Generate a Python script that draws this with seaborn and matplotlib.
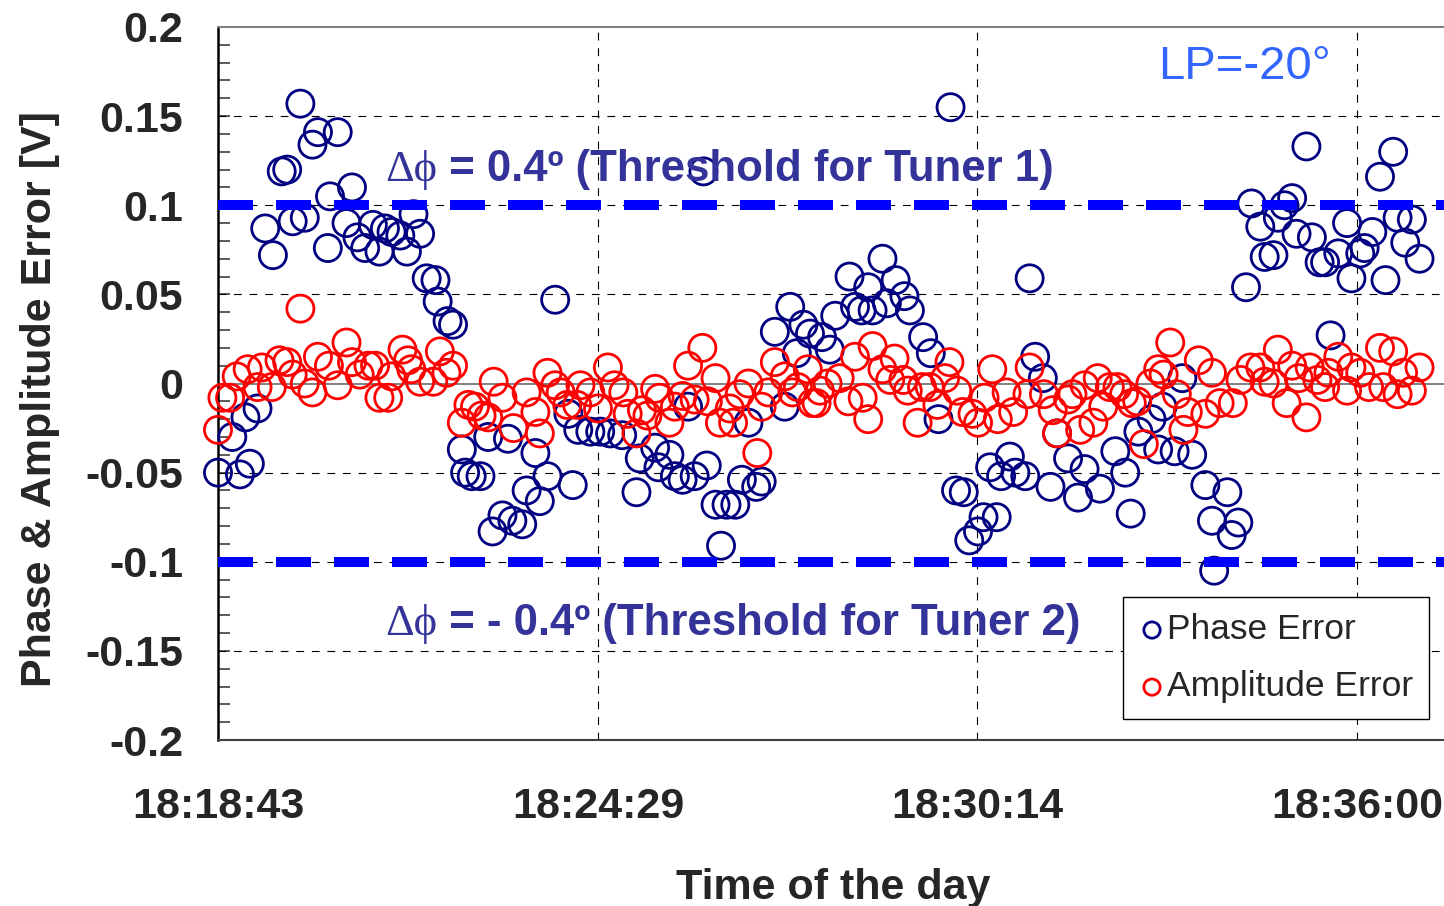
import matplotlib
matplotlib.use("Agg")
import matplotlib.pyplot as plt
from matplotlib.ticker import MultipleLocator, FixedLocator
import pandas as pd
import seaborn as sns

# Elapsed seconds after 18:18:43 and measured errors [V]
phase_t = [0, 13, 20, 25, 29, 36, 43, 50, 58, 63,
           68, 75, 79, 86, 91, 100, 102, 109, 117, 122,
           127, 134, 141, 147, 152, 158, 166, 172, 178, 184,
           190, 198, 200, 209, 214, 222, 225, 231, 239, 246,
           250, 259, 264, 268, 277, 281, 289, 293, 300, 307,
           319, 323, 328, 339, 348, 357, 368, 381, 384, 398,
           401, 411, 416, 423, 428, 434, 442, 445, 453, 458,
           463, 471, 477, 483, 490, 495, 507, 516, 521, 527,
           533, 539, 550, 557, 562, 575, 580, 586, 592, 596,
           605, 609, 617, 625, 630, 642, 649, 656, 667, 672,
           679, 684, 692, 697, 703, 709, 713, 721, 726, 735,
           739, 744, 751, 758, 764, 774, 783, 789, 803, 817,
           826, 831, 838, 850, 856, 860, 871, 878, 887, 899,
           905, 907, 919, 923, 929, 936, 941, 949, 953, 961,
           965, 971, 978, 982, 991, 996, 1003, 1008, 1013, 1020,
           1028, 1032, 1040, 1044, 1051, 1058, 1063, 1070, 1074, 1081,
           1087, 1094]
phase_v = [-0.050, -0.030, -0.051, -0.019, -0.045, -0.014, 0.087, 0.072, 0.119, 0.120,
           0.091, 0.157, 0.093, 0.134, 0.141, 0.076, 0.105, 0.141, 0.090, 0.110,
           0.082, 0.076, 0.089, 0.074, 0.087, 0.085, 0.083, 0.074, 0.095, 0.084,
           0.059, 0.058, 0.046, 0.035, 0.033, -0.037, -0.050, -0.052, -0.052, -0.030,
           -0.083, -0.074, -0.031, -0.077, -0.079, -0.060, -0.039, -0.066, -0.052, 0.047,
           -0.017, -0.057, -0.026, -0.027, -0.027, -0.028, -0.029, -0.061, -0.042, -0.036,
           -0.047, -0.040, -0.052, -0.054, -0.013, -0.052, 0.119, -0.046, -0.068, -0.091,
           -0.068, -0.068, -0.054, -0.022, -0.058, -0.055, 0.029, -0.013, 0.043, 0.017,
           0.033, 0.028, 0.026, 0.019, 0.038, 0.060, 0.043, 0.041, 0.054, 0.041,
           0.070, 0.045, 0.058, 0.049, 0.041, 0.026, 0.017, -0.020, 0.155, -0.060,
           -0.061, -0.088, -0.083, -0.075, -0.047, -0.075, -0.052, -0.041, -0.050, -0.052,
           0.059, 0.015, 0.003, -0.058, -0.028, -0.042, -0.064, -0.048, -0.059, -0.038,
           -0.050, -0.073, -0.027, -0.020, -0.037, -0.013, -0.038, 0.003, -0.040, -0.057,
           -0.077, -0.105, -0.061, -0.085, -0.078, 0.054, 0.101, 0.088, 0.071, 0.072,
           0.093, 0.100, 0.104, 0.084, 0.133, 0.082, 0.068, 0.068, 0.027, 0.073,
           0.090, 0.059, 0.073, 0.076, 0.085, 0.116, 0.058, 0.130, 0.093, 0.079,
           0.092, 0.070]

amp_t = [0, 4, 11, 17, 27, 36, 40, 49, 56, 63,
         68, 75, 79, 86, 91, 101, 109, 117, 122, 129,
         137, 143, 147, 155, 158, 168, 173, 176, 184, 196,
         202, 208, 214, 222, 228, 234, 240, 246, 251, 259,
         269, 281, 289, 293, 300, 307, 312, 318, 327, 330,
         339, 346, 355, 361, 369, 373, 381, 386, 391, 398,
         402, 411, 416, 423, 428, 434, 441, 446, 453, 457,
         466, 469, 475, 483, 491, 495, 501, 507, 516, 523,
         528, 537, 541, 545, 548, 555, 566, 574, 580, 587,
         592, 596, 605, 612, 616, 624, 628, 637, 641, 648,
         655, 662, 666, 673, 678, 687, 692, 698, 705, 710,
         718, 724, 737, 739, 752, 760, 764, 774, 778, 785,
         789, 797, 801, 806, 812, 819, 825, 832, 837, 843,
         849, 856, 861, 867, 873, 879, 883, 893, 899, 905,
         912, 924, 931, 940, 949, 953, 961, 965, 973, 978,
         984, 991, 994, 1001, 1008, 1011, 1020, 1028, 1032, 1040,
         1048, 1058, 1061, 1070, 1074, 1079, 1087, 1094]
amp_v = [-0.026, -0.008, -0.008, 0.004, 0.008, -0.002, 0.009, -0.002, 0.013, 0.012,
         0.005, 0.042, 0.000, -0.005, 0.015, 0.010, -0.001, 0.023, 0.012, 0.005,
         0.010, 0.010, -0.008, -0.008, 0.004, 0.019, 0.013, 0.008, 0.001, 0.001,
         0.018, 0.006, 0.010, -0.022, -0.012, -0.013, -0.018, -0.019, 0.001, -0.008,
         -0.025, -0.005, -0.016, -0.028, 0.006, -0.001, -0.005, -0.012, -0.012, -0.001,
         -0.005, -0.014, 0.009, -0.001, -0.005, -0.017, -0.028, -0.015, -0.018, -0.003,
         -0.008, -0.022, -0.013, -0.007, 0.010, -0.009, 0.020, -0.010, 0.003, -0.022,
         -0.014, -0.022, -0.006, 0.000, -0.039, -0.013, -0.005, 0.012, 0.004, -0.005,
         -0.002, 0.008, -0.011, -0.011, -0.004, 0.000, 0.003, -0.010, 0.015, -0.008,
         -0.020, 0.021, 0.008, 0.002, 0.014, 0.002, -0.004, -0.022, -0.002, -0.002,
         -0.012, 0.003, 0.012, -0.004, -0.016, -0.017, -0.022, -0.008, 0.008, -0.020,
         -0.005, -0.016, -0.006, 0.009, -0.006, -0.015, -0.028, -0.009, -0.006, -0.026,
         -0.001, -0.022, 0.003, -0.013, -0.002, -0.002, -0.006, -0.011, -0.010, -0.034,
         0.000, 0.008, 0.005, 0.023, -0.006, -0.026, -0.016, 0.013, -0.017, 0.006,
         -0.011, -0.011, 0.002, 0.009, 0.009, 0.001, 0.000, 0.019, -0.011, 0.010,
         0.003, -0.019, 0.009, 0.002, -0.002, 0.006, 0.015, -0.004, 0.009, 0.006,
         -0.002, 0.020, -0.002, 0.018, -0.006, 0.006, -0.004, 0.009]

start_time = "18:18:43"
time_ticks = ["18:18:43", "18:24:29", "18:30:14", "18:36:00"]
y_ticks = [0.2, 0.15, 0.1, 0.05, 0.0, -0.05, -0.1, -0.15, -0.2]
y_tick_labels = ["0.2", "0.15", "0.1", "0.05", "0", "-0.05", "-0.1", "-0.15", "-0.2"]
thresholds = [0.1, -0.1]
threshold_labels = [" = 0.4\u00ba (Threshold for Tuner 1)",
                    " = - 0.4\u00ba (Threshold for Tuner 2)"]


def to_seconds(stamp):
    h, m, s = (int(p) for p in stamp.split(":"))
    return h * 3600 + m * 60 + s


t0 = to_seconds(start_time)
tick_pos = [to_seconds(s) - t0 for s in time_ticks]

sns.set_theme(style="white")
plt.rcParams["font.family"] = ["Liberation Sans", "DejaVu Sans"]

NAVY = "#000080"
RED = "#FF0000"
LINE_BLUE = "#0000FF"
TEXT_BLUE = "#333399"

W, H = 1444, 906
fig = plt.figure(figsize=(W / 100, H / 100), dpi=100)
ax = fig.add_axes([218 / W, 1 - 740 / H, 1 - 218 / W, (740 - 27) / H])

phase_df = pd.DataFrame({"time": phase_t, "error": phase_v})
amp_df = pd.DataFrame({"time": amp_t, "error": amp_v})

sns.scatterplot(data=phase_df, x="time", y="error", ax=ax, marker="o", s=380,
                color=NAVY, facecolor="none", edgecolor=NAVY, linewidth=2.0,
                label="Phase Error", zorder=3, clip_on=False)
sns.scatterplot(data=amp_df, x="time", y="error", ax=ax, marker="o", s=380,
                color=RED, facecolor="none", edgecolor=RED, linewidth=2.0,
                label="Amplitude Error", zorder=4, clip_on=False)

# grid: dashed lines at major ticks, solid grey line at zero
for yv in y_ticks:
    if abs(yv) < 1e-9 or abs(yv) > 0.19:
        continue
    ax.axhline(yv, color="black", lw=0.8, ls=(0, (7, 7)), zorder=1)
for xv in tick_pos[1:]:
    ax.axvline(xv, color="black", lw=0.8, ls=(0, (7, 7)), zorder=1)
ax.axhline(0, color="#808080", lw=1.4, zorder=1)

# tuner thresholds
for thr in thresholds:
    ax.axhline(thr, color=LINE_BLUE, lw=7.2, ls=(0, (3.5, 2.3)), zorder=6)

ax.set_xlim(0, (W - 218) * 0.9105)
ax.set_ylim(-0.2, 0.2)

ax.yaxis.set_major_locator(FixedLocator(y_ticks))
ax.set_yticklabels(y_tick_labels, fontsize=31, fontweight="bold")
ax.yaxis.set_minor_locator(MultipleLocator(0.01))
ax.tick_params(axis="y", which="both", direction="in", length=8.5, width=1.2,
               color="#404040", left=True, pad=25)
ax.set_xticks(tick_pos)
ax.set_xticklabels(time_ticks, fontsize=31, fontweight="bold")
ax.tick_params(axis="x", length=0, pad=34)

ax.spines["left"].set_color("black")
ax.spines["left"].set_linewidth(1.8)
ax.spines["top"].set_color("#808080")
ax.spines["top"].set_linewidth(1.5)
ax.spines["bottom"].set_color("#404040")
ax.spines["bottom"].set_linewidth(1.5)
ax.spines["right"].set_visible(False)

ax.set_ylabel("Phase & Amplitude Error [V]", fontsize=31, fontweight="bold")
ax.yaxis.set_label_coords(-0.129, 0.478)
ax.set_xlabel("Time of the day", fontsize=31, fontweight="bold")
ax.xaxis.set_label_coords(0.5016, -0.18)

# threshold annotations
for yv, txt in zip([0.1195, -0.135], threshold_labels):
    sym = ax.text(152, yv, "\u0394\u03d5", fontsize=32, color=TEXT_BLUE,
                  family=["Liberation Serif", "DejaVu Serif"],
                  va="center", ha="left", zorder=7)
    ax.annotate(txt, xy=(1, 0), xycoords=sym, va="bottom", ha="left",
                fontsize=31.5, fontweight="bold", color=TEXT_BLUE, zorder=7)

ax.text(856, 0.1776, "LP=-20\u00b0", fontsize=34, color="#3366FF",
        va="center", ha="left", zorder=7)

leg = ax.legend(loc="upper left", bbox_to_anchor=(0.738, 0.2), fontsize=25.5,
                frameon=True, fancybox=False, edgecolor="black", framealpha=1,
                markerscale=0.6, handletextpad=0.05, borderpad=0.45,
                labelspacing=0.68, handlelength=0.75, borderaxespad=0)
leg.get_frame().set_linewidth(1.0)
leg.set_zorder(8)

fig.savefig("out.png", dpi=100)
